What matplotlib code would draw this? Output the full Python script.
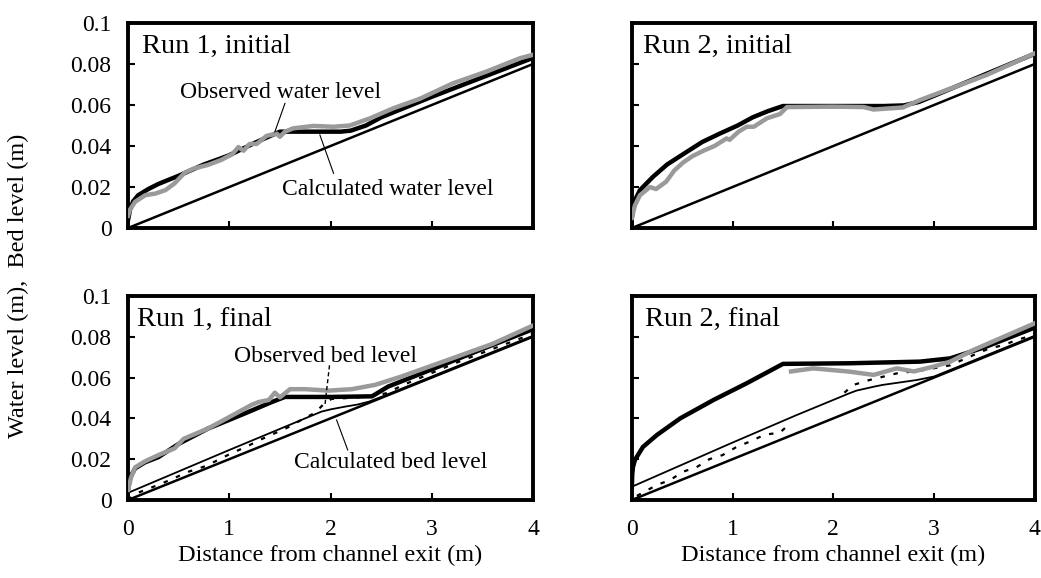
import numpy as np
import matplotlib
matplotlib.use('Agg')
import matplotlib.pyplot as plt

plt.rcParams['font.family'] = ['Liberation Serif', 'DejaVu Serif']

# initial bed (straight slope)
bed_x = [0, 4]
bed_y = [0, 0.08]

# Run 1, initial
r1i_calc_x = [0, 0.02, 0.05, 0.1, 0.2, 0.3, 0.5, 0.75, 1.0, 1.25, 1.5, 1.8, 2.1, 2.2, 2.35, 2.5, 2.75, 3.0, 3.5, 4.0]
r1i_calc_y = [0.004, 0.009, 0.013, 0.016, 0.019, 0.0215, 0.0255, 0.031, 0.0355, 0.0415, 0.047, 0.047, 0.047, 0.0475, 0.050, 0.054, 0.059, 0.064, 0.0735, 0.083]
r1i_obs_x = [0, 0.02, 0.07, 0.17, 0.27, 0.37, 0.46, 0.56, 0.65, 0.79, 0.92, 0.97, 1.03, 1.09, 1.14, 1.2, 1.27, 1.32, 1.37, 1.42, 1.47, 1.5, 1.55,
             1.63, 1.83, 2.03, 2.19, 2.39, 2.62, 2.88, 3.21, 3.54, 3.87, 4.0]
r1i_obs_y = [0.006, 0.009, 0.0128, 0.016, 0.0168, 0.0185, 0.0218, 0.027, 0.029, 0.0308, 0.0332, 0.0345, 0.036, 0.0395, 0.0377, 0.041, 0.041, 0.043,
             0.045, 0.0455, 0.046, 0.0445, 0.047, 0.0486, 0.0498, 0.0494, 0.050, 0.0535, 0.0584, 0.063, 0.0706, 0.0763, 0.0828, 0.0845]

# Run 2, initial
r2i_calc_x = [0, 0.01, 0.03, 0.08, 0.21, 0.35, 0.54, 0.7, 0.87, 1.05, 1.2, 1.35, 1.5, 2.0, 2.5, 2.7, 2.85, 3.0, 3.5, 4.0]
r2i_calc_y = [0.005, 0.009, 0.0135, 0.0185, 0.025, 0.031, 0.037, 0.042, 0.046, 0.050, 0.054, 0.057, 0.0595, 0.0595, 0.0595, 0.0598, 0.0615,
              0.0645, 0.0748, 0.085]
r2i_obs_x = [0, 0.03, 0.08, 0.18, 0.24, 0.34, 0.42, 0.51, 0.6, 0.71, 0.82, 0.94, 0.97, 1.06, 1.14, 1.21, 1.34, 1.47, 1.54, 2.0, 2.3, 2.4, 2.69,
             2.86, 3.52, 4.0]
r2i_obs_y = [0.005, 0.011, 0.016, 0.020, 0.019, 0.0226, 0.028, 0.032, 0.035, 0.0377, 0.040, 0.0437, 0.043, 0.047, 0.0494, 0.0494, 0.0535, 0.0556,
             0.059, 0.0592, 0.059, 0.0578, 0.0588, 0.0624, 0.0746, 0.0852]

# Run 1, final
r1f_calc_x = [0, 0.02, 0.07, 0.17, 0.3, 0.5, 0.79, 1.12, 1.42, 1.55, 2.0, 2.41, 2.57, 3.0, 3.5, 4.0]
r1f_calc_y = [0.005, 0.011, 0.0155, 0.0185, 0.021, 0.0275, 0.035, 0.0417, 0.048, 0.0505, 0.0505, 0.0508, 0.0556, 0.064, 0.074, 0.0837]
r1f_obs_x = [0, 0.03, 0.07, 0.17, 0.3, 0.46, 0.55, 0.79, 1.05, 1.22, 1.29, 1.39, 1.45, 1.5, 1.6, 1.75, 1.98, 2.21, 2.44, 2.7, 3.18, 3.6, 4.0]
r1f_obs_y = [0.005, 0.011, 0.016, 0.019, 0.022, 0.0253, 0.030, 0.035, 0.042, 0.0466, 0.048, 0.049, 0.0526, 0.0503, 0.0543, 0.0543, 0.0536,
             0.0543, 0.0564, 0.0605, 0.069, 0.0765, 0.0855]
r1f_cbed_x = [0, 1.0, 1.91, 2.01, 2.15, 2.27, 2.38, 2.5, 3.0, 4.0]
r1f_cbed_y = [0.0035, 0.0245, 0.0433, 0.0445, 0.0458, 0.0468, 0.0482, 0.0505, 0.0605, 0.0805]
r1f_obed_x = [0, 0.07, 0.33, 0.6, 0.76, 0.89, 1.02, 1.17, 1.3, 1.45, 1.58, 1.71, 1.85, 1.94, 2.01, 2.11, 2.39, 2.55, 2.72, 3.18, 3.28, 4.0]
r1f_obed_y = [0.0, 0.003, 0.008, 0.0139, 0.0165, 0.0196, 0.0229, 0.0261, 0.0294, 0.0327, 0.0356, 0.0392, 0.0428, 0.0474, 0.0495, 0.0498,
              0.0507, 0.0523, 0.0564, 0.066, 0.068, 0.0815]

# Run 2, final
r2f_calc_x = [0, 0.003, 0.01, 0.03, 0.11, 0.25, 0.48, 0.81, 1.14, 1.5, 2.16, 2.86, 3.16, 3.5, 4.0]
r2f_calc_y = [0.0065, 0.012, 0.016, 0.0196, 0.026, 0.0319, 0.040, 0.049, 0.0572, 0.0667, 0.067, 0.0678, 0.0694, 0.0748, 0.0845]
r2f_obs_x = [1.58, 1.8, 2.16, 2.4, 2.63, 2.8, 2.99, 3.16, 3.39, 4.0]
r2f_obs_y = [0.063, 0.0645, 0.0629, 0.0613, 0.0645, 0.063, 0.0653, 0.0678, 0.0735, 0.0866]
r2f_cbed_x = [0, 0.97, 1.63, 2.16, 2.23, 2.41, 2.49, 2.83, 3.0, 4.0]
r2f_cbed_y = [0.0065, 0.0275, 0.0415, 0.0523, 0.0536, 0.0556, 0.0564, 0.0588, 0.0605, 0.0805]
r2f_obed_x = [0.05, 0.25, 0.38, 0.51, 0.64, 0.77, 0.9, 1.04, 1.17, 1.32, 1.47, 1.58, np.nan,
              2.11, 2.2, 2.36, 2.66, 2.82, 2.99, 3.16, 3.39, 3.55, 3.69, 3.82, 4.0]
r2f_obed_y = [0.002, 0.0074, 0.0098, 0.0139, 0.016, 0.020, 0.022, 0.026, 0.0286, 0.032, 0.033, 0.038, np.nan,
              0.0526, 0.0564, 0.0588, 0.0624, 0.063, 0.0645, 0.066, 0.071, 0.0743, 0.0759, 0.0784, 0.081]

grey = '#9a9a9a'

fig = plt.figure(figsize=(10.41, 5.78), dpi=100)
ax1 = fig.add_axes([0.123, 0.6055, 0.389, 0.3547])
ax2 = fig.add_axes([0.607, 0.6055, 0.387, 0.3547])
ax3 = fig.add_axes([0.123, 0.135, 0.389, 0.353])
ax4 = fig.add_axes([0.607, 0.135, 0.387, 0.353])

for ax in [ax1, ax2, ax3, ax4]:
    ax.set_xlim(0, 4)
    ax.set_ylim(0, 0.1)
    ax.set_xticks([0, 1, 2, 3, 4])
    ax.set_yticks([0, 0.02, 0.04, 0.06, 0.08, 0.1])
    for s in ax.spines.values():
        s.set_linewidth(2.8)
    ax.tick_params(direction='in', length=5, width=1.5, labelsize=17)
    ax.tick_params(axis='y', pad=12)
    ax.tick_params(axis='x', pad=14)
    ax.plot(bed_x, bed_y, color='black', lw=1.8, zorder=2)

for ax in [ax1, ax3]:
    ax.set_yticklabels(['0', '0.02', '0.04', '0.06', '0.08', '0.1'])
for ax in [ax2, ax4]:
    ax.set_yticklabels([])
for ax in [ax1, ax2]:
    ax.set_xticklabels([])
for ax in [ax3, ax4]:
    ax.set_xticklabels(['0', '1', '2', '3', '4'])
    ax.set_xlabel('Distance from channel exit (m)', fontsize=17.5, labelpad=3)

# Run 1, initial
ax1.plot(r1i_calc_x, r1i_calc_y, color='black', lw=3.2, zorder=3)
ax1.plot(r1i_obs_x, r1i_obs_y, color=grey, lw=3.2, zorder=4)
ax1.text(0.035, 0.855, 'Run 1, initial', transform=ax1.transAxes, fontsize=20.5)
ax1.text(1.51, 0.0634, 'Observed water level', ha='center', fontsize=17)
ax1.plot([1.55, 1.45], [0.0608, 0.0469], color='black', lw=0.8, zorder=5)
ax1.text(2.57, 0.0161, 'Calculated water level', ha='center', fontsize=17)
ax1.plot([1.895, 2.03], [0.0454, 0.0267], color='black', lw=0.8, zorder=5)

# Run 2, initial
ax2.plot(r2i_calc_x, r2i_calc_y, color='black', lw=3.2, zorder=3)
ax2.plot(r2i_obs_x, r2i_obs_y, color=grey, lw=3.2, zorder=4)
ax2.text(0.028, 0.855, 'Run 2, initial', transform=ax2.transAxes, fontsize=20.5)

# Run 1, final
ax3.plot(r1f_cbed_x, r1f_cbed_y, color='black', lw=1.3, zorder=2)
ax3.plot(r1f_obed_x, r1f_obed_y, color='black', lw=1.6, dashes=(2, 4), zorder=2)
ax3.plot(r1f_calc_x, r1f_calc_y, color='black', lw=3.2, zorder=3)
ax3.plot(r1f_obs_x, r1f_obs_y, color=grey, lw=3.2, zorder=4)
ax3.text(0.022, 0.855, 'Run 1, final', transform=ax3.transAxes, fontsize=20.5)
ax3.text(1.95, 0.0676, 'Observed bed level', ha='center', fontsize=17)
ax3.plot([1.99, 1.945], [0.066, 0.0466], color='black', lw=1.0, dashes=(3, 2), zorder=5)
ax3.text(2.59, 0.0157, 'Calculated bed level', ha='center', fontsize=17)
ax3.plot([2.06, 2.17], [0.0392, 0.0245], color='black', lw=0.8, zorder=5)

# Run 2, final
ax4.plot(r2f_cbed_x, r2f_cbed_y, color='black', lw=1.3, zorder=2)
ax4.plot(r2f_obed_x, r2f_obed_y, color='black', lw=1.6, dashes=(2, 4), zorder=2)
ax4.plot(r2f_calc_x, r2f_calc_y, color='black', lw=3.2, zorder=3)
ax4.plot(r2f_obs_x, r2f_obs_y, color=grey, lw=3.2, zorder=4)
ax4.text(0.032, 0.855, 'Run 2, final', transform=ax4.transAxes, fontsize=20.5)

fig.text(0.018, 0.506, 'Water level (m),  Bed level (m)', rotation=90, ha='center', va='center', fontsize=17.5)

plt.savefig('out.png', dpi=100)
